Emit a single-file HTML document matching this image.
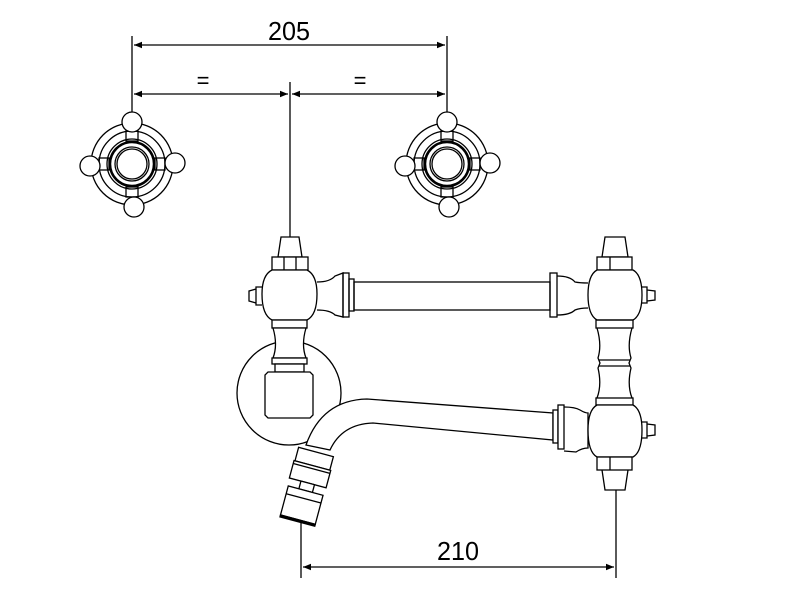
<!DOCTYPE html>
<html><head><style>body{margin:0;background:#fff}svg{display:block}</style></head><body>
<svg width="800" height="600" viewBox="0 0 800 600" xmlns="http://www.w3.org/2000/svg" fill="none" stroke="#000" stroke-width="1.3">
<defs>
<marker id="a" viewBox="0 0 10 10" refX="10" refY="5" markerWidth="22" markerHeight="8" markerUnits="userSpaceOnUse" orient="auto-start-reverse"><path d="M0,1 L10,5 L0,9z" fill="#000" stroke="none"/></marker>
</defs>
<line x1="132" y1="36" x2="132" y2="120"/>
<line x1="447" y1="36" x2="447" y2="120"/>
<line x1="134" y1="45" x2="445" y2="45" marker-start="url(#a)" marker-end="url(#a)"/>
<line x1="134" y1="94" x2="288" y2="94" marker-start="url(#a)" marker-end="url(#a)"/>
<line x1="292" y1="94" x2="445" y2="94" marker-start="url(#a)" marker-end="url(#a)"/>
<line x1="290" y1="82" x2="290" y2="268"/>
<g fill="#000" stroke="none" font-family="Liberation Sans, sans-serif" font-size="26" text-anchor="middle">
<text x="289" y="40" textLength="42" lengthAdjust="spacingAndGlyphs">205</text>
<text x="203" y="88" font-size="22">=</text>
<text x="360" y="88" font-size="22">=</text>
<text x="458" y="560" textLength="42" lengthAdjust="spacingAndGlyphs">210</text>
</g>
<g id="h" transform="translate(132,164)">
<circle r="41"/><circle r="33"/><circle r="25"/><circle r="22" stroke-width="2.5"/><circle r="17"/><circle r="15"/>
<rect x="-6" y="-33" width="12" height="10"/><rect x="-6" y="23" width="12" height="10"/>
<rect x="-33" y="-6" width="10" height="12"/><rect x="23" y="-6" width="10" height="12"/>
<circle cx="0" cy="-42" r="10" fill="#fff"/><circle cx="2" cy="43" r="10" fill="#fff"/>
<circle cx="-42" cy="2" r="10" fill="#fff"/><circle cx="43" cy="-1" r="10" fill="#fff"/>
</g>
<use href="#h" transform="translate(315,0)"/>
<circle cx="289" cy="393" r="52"/>
<path d="M281,237 L299,237 L302,257 L278,257 Z" fill="#fff"/>
<rect x="272" y="257" width="36" height="13" fill="#fff"/>
<line x1="284" y1="257" x2="284" y2="270"/><line x1="296" y1="257" x2="296" y2="270"/>
<path d="M272,270 Q262,275 262,294 Q262,315 272,320 L307,320 Q317,315 317,294 Q317,275 307,270 Z" fill="#fff"/>
<path d="M262,287 L256,287 L256,305 L262,305 M256,289 L249,291 L249,301 L256,303"/>
<path d="M317,282 Q330,282 335,276 L343,273 L343,317 L335,315 Q330,310 317,310"/>
<rect x="343" y="273" width="6" height="44"/><rect x="349" y="279" width="5" height="32"/>
<rect x="354" y="282" width="196" height="28"/>
<rect x="272" y="320" width="35" height="8" fill="#fff"/>
<path d="M273,328 Q278,345 273,358 L306,358 Q301,345 306,328 Z" fill="#fff"/>
<rect x="272" y="358" width="35" height="6" fill="#fff"/>
<rect x="275" y="364" width="29" height="8" fill="#fff"/>
<path d="M268,372 L310,372 L313,375 L313,415 L310,418 L268,418 L265,415 L265,375 Z" fill="#fff"/>
<path d="M306,445 Q322,400 367,399 L553,413 L553,440 L373,423 Q342,424 330,450 Z" fill="#fff"/>
<rect x="553" y="410" width="5" height="33" fill="#fff"/><rect x="558" y="405" width="6" height="44" fill="#fff"/>
<path d="M564,407 Q575,407 580,410 Q585,413 588,413 L588,448 Q582,448 576,452 L564,451"/>
<g transform="translate(316,452) rotate(15)" fill="#fff">
<rect x="-18" y="0" width="36" height="14"/>
<rect x="-19" y="14" width="38" height="18"/><line x1="-19" y1="17" x2="19" y2="17"/>
<rect x="-7" y="32" width="14" height="8"/>
<rect x="-18" y="40" width="36" height="30"/><line x1="-18" y1="48" x2="18" y2="48"/>
<rect x="-18" y="70" width="36" height="2" fill="#000"/>
</g>
<path d="M605,237 L625,237 L628,257 L602,257 Z" fill="#fff"/>
<rect x="597" y="257" width="35" height="13" fill="#fff"/><line x1="610" y1="257" x2="610" y2="270"/>
<path d="M597,270 Q588,275 588,295 Q588,315 597,320 L633,320 Q642,315 642,295 Q642,275 633,270 Z" fill="#fff"/>
<path d="M642,287 L647,287 L647,303 L642,303 M647,290 L655,291 L655,300 L647,301"/>
<rect x="550" y="273" width="7" height="44"/>
<path d="M557,276 Q570,276 575,282 Q580,283 588,283 M588,308 Q580,308 575,310 Q570,315 557,315"/>
<rect x="596" y="320" width="37" height="8"/>
<path d="M597,328 Q602,345 598,358 L600,363 L598,368 Q602,385 597,398 M632,328 Q627,345 631,358 L629,363 L631,368 Q627,385 632,398"/>
<line x1="599" y1="360" x2="630" y2="360"/><line x1="599" y1="366" x2="630" y2="366"/>
<rect x="596" y="398" width="37" height="7"/>
<path d="M597,405 Q588,410 588,430 Q588,452 597,457 L633,457 Q642,452 642,430 Q642,410 633,405 Z" fill="#fff"/>
<path d="M642,422 L647,422 L647,438 L642,438 M647,424 L655,425 L655,435 L647,436"/>
<rect x="597" y="457" width="35" height="13" fill="#fff"/><line x1="610" y1="457" x2="610" y2="470"/>
<path d="M602,470 L605,490 L625,490 L628,470"/>
<line x1="301" y1="520" x2="301" y2="578"/>
<line x1="616" y1="490" x2="616" y2="578"/>
<line x1="303" y1="567" x2="614" y2="567" marker-start="url(#a)" marker-end="url(#a)"/>
</svg>
</body></html>
